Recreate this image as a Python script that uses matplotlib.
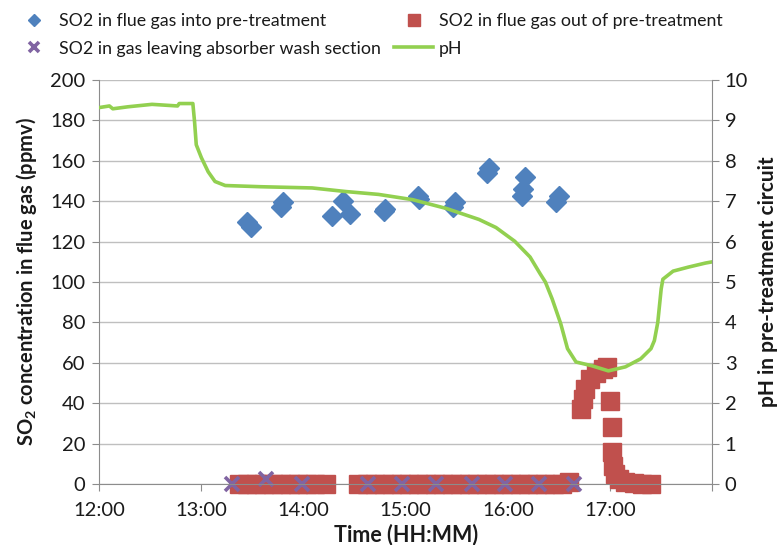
import matplotlib
matplotlib.use("Agg")
import matplotlib.pyplot as plt

plt.rcParams["font.family"] = ["Lato", "DejaVu Sans"]
plt.rcParams["mathtext.fontset"] = "custom"
plt.rcParams["mathtext.rm"] = "Lato"
plt.rcParams["mathtext.bf"] = "Lato:bold"
plt.rcParams["mathtext.default"] = "bf"

# ── Data (times as HH:MM)
in_time = ["13:27", "13:29", "13:47", "13:48", "14:17", "14:23", "14:27", "14:47", "14:48", "15:07",
           "15:08", "15:28", "15:29", "15:48", "15:49", "16:08", "16:09", "16:10", "16:28", "16:30"]
in_so2 = [129.5, 127.5, 137, 139.5, 132.5, 140, 133.5, 135, 136, 142.5,
          141, 137, 139.5, 154, 156.5, 142.5, 146, 152, 139.5, 142.5]

out_time = ["13:22", "13:27", "13:32", "13:37", "13:42", "13:47", "13:52", "13:57", "14:02", "14:07", "14:13",
            "14:32", "14:37", "14:42", "14:47", "14:52", "14:57", "15:02", "15:07", "15:12", "15:17",
            "15:22", "15:27", "15:32", "15:37", "15:42", "15:47", "15:52", "15:57", "16:02", "16:07",
            "16:12", "16:17", "16:22", "16:27", "16:32", "16:36",
            "16:43", "16:44", "16:45", "16:48", "16:52", "16:56", "16:58", "17:00", "17:01", "17:01",
            "17:02", "17:03", "17:05", "17:09", "17:14", "17:19", "17:24"]
out_so2 = [0, 0, 0, 0, 0, 0, 0, 0, 0, 0, 0,
           0, 0, 0, 0, 0, 0, 0, 0, 0, 0,
           0, 0, 0, 0, 0, 0, 0, 0, 0, 0,
           0, 0, 0, 0, 0, 1,
           37, 42, 47, 52, 55, 57, 58, 41, 28, 16,
           9, 5, 2.5, 1, 0.5, 0, 0]

wash_time = ["13:18", "13:38", "13:59", "14:38", "14:58", "15:18", "15:39", "15:58", "16:18", "16:39"]
wash_so2 = [0, 2.5, 0, 0, 0, 0, 0, 0, 0, 0]

ph_time = ["12:00", "12:06", "12:08", "12:17", "12:31", "12:46", "12:47", "12:55", "12:56", "12:57",
           "13:00", "13:04", "13:08", "13:14", "13:35", "13:55", "14:05", "14:25", "14:44", "15:04",
           "15:24", "15:43", "15:53", "16:04", "16:13", "16:19", "16:22", "16:26", "16:31", "16:35",
           "16:40", "16:49", "16:59", "17:09", "17:18", "17:24", "17:26", "17:28", "17:30", "17:31",
           "17:37", "17:46", "17:56", "18:00"]
ph = [9.32, 9.36, 9.29, 9.34, 9.40, 9.36, 9.42, 9.42, 8.97, 8.40,
      8.08, 7.73, 7.49, 7.39, 7.36, 7.34, 7.33, 7.24, 7.17, 7.04,
      6.82, 6.55, 6.35, 6.01, 5.62, 5.20, 5.00, 4.58, 3.97, 3.35,
      3.02, 2.93, 2.80, 2.90, 3.10, 3.35, 3.55, 4.00, 4.83, 5.07,
      5.27, 5.37, 5.47, 5.50]

x_ticks = [12, 13, 14, 15, 16, 17, 18]
x_labels = ["12:00", "13:00", "14:00", "15:00", "16:00", "17:00", ""]


def hrs(ts):
    return [int(t[:2]) + int(t[3:]) / 60 for t in ts]


C = {"in": "#4F81BD", "out": "#C0504D", "wash": "#8064A2", "ph": "#92D050",
     "grid": "#bfbfbf", "axis": "#8c8c8c", "text": "#1a1a1a"}

fig = plt.figure(figsize=(7.81, 5.45), dpi=100)
ax = fig.add_axes([0.127, 0.112, 0.785, 0.741])
ax2 = ax.twinx()

h_in, = ax.plot(hrs(in_time), in_so2, ls="none", marker="D", ms=10, color=C["in"], mec=C["in"],
                label="SO2 in flue gas into pre-treatment")
h_out, = ax.plot(hrs(out_time), out_so2, ls="none", marker="s", ms=13.5, color=C["out"], mec=C["out"],
                 clip_on=False, label="SO2 in flue gas out of pre-treatment")
h_wash, = ax.plot(hrs(wash_time), wash_so2, ls="none", marker="x", ms=10, mew=2.6, color=C["wash"],
                  clip_on=False, label="SO2 in gas leaving absorber wash section")
h_ph, = ax2.plot(hrs(ph_time), ph, color=C["ph"], lw=2.6, label="pH")

ax.set_xlim(12, 18)
ax.set_ylim(0, 200)
ax2.set_ylim(0, 10)
ax.set_yticks(range(0, 201, 20))
ax2.set_yticks(range(0, 11))
ax.set_xticks(x_ticks)
ax.set_xticklabels(x_labels)

ax.yaxis.grid(True, color=C["grid"], lw=1)
ax.set_axisbelow(True)

for a in (ax, ax2):
    a.spines["top"].set_visible(False)
    for s in ("left", "right", "bottom"):
        a.spines[s].set_color(C["axis"])
    a.tick_params(colors=C["axis"], labelcolor=C["text"], labelsize=14.5, length=5, direction="out")
ax.spines["right"].set_visible(False)
ax2.spines["left"].set_visible(False)
ax2.spines["bottom"].set_visible(False)
ax.tick_params(axis="x", pad=8)
ax.tick_params(axis="y", pad=5)
ax2.tick_params(axis="y", pad=4)

ax.set_xlabel("Time (HH:MM)", fontsize=15.5, fontweight="bold", color=C["text"], labelpad=3)
ax.set_ylabel("SO$_2$ concentration in flue gas (ppmv)", fontsize=14.5, fontweight="bold",
              color=C["text"], labelpad=8)
ax2.set_ylabel("pH in pre-treatment circuit", fontsize=15, fontweight="bold",
               color=C["text"], labelpad=7)

fig.legend(handles=[h_in, h_wash, h_out, h_ph], ncol=2, loc="upper left",
           bbox_to_anchor=(-0.002, 1.005), frameon=False, fontsize=12.8, markerscale=0.65,
           handlelength=2.2, handletextpad=0.3, columnspacing=0.75, labelspacing=0.64,
           numpoints=1, labelcolor=C["text"])

fig.savefig("out.png", dpi=100)
